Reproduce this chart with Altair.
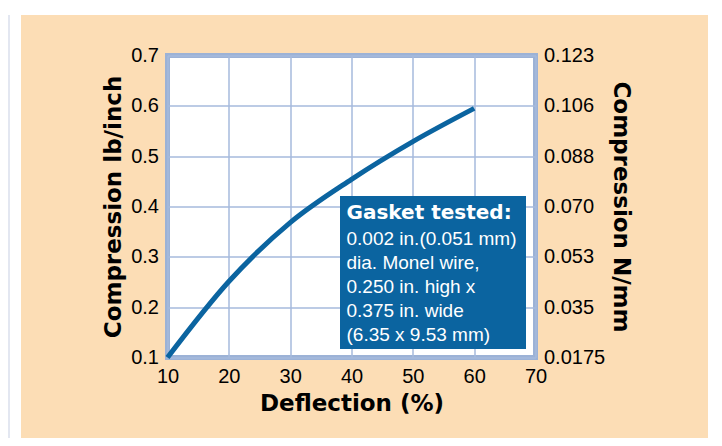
import altair as alt
import pandas as pd

# ---- data ----
deflection = [10, 20, 30, 40, 50, 60]
compression_lb_in = [0.100, 0.251, 0.368, 0.454, 0.529, 0.595]
x_ticks = [10, 20, 30, 40, 50, 60, 70]
y_ticks = [0.1, 0.2, 0.3, 0.4, 0.5, 0.6, 0.7]
y_right_labels = ["0.0175", "0.035", "0.053", "0.070", "0.088", "0.106", "0.123"]
note_title = "Gasket tested:"
note_lines = ["0.002 in.(0.051 mm)", "dia. Monel  wire,", "0.250 in. high x",
              "0.375 in. wide", "(6.35 x 9.53 mm)"]

df = pd.DataFrame({"Deflection": deflection, "Compression": compression_lb_in})

# ---- styling ----
PEACH = "#FCDDB5"
BLUE = "#0B64A0"
GRID = "#A6BADD"
BORDER = "#9CB2D6"
LIGHT = "#E3E7F1"
W, H = 368, 302
PAD = {"left": 159.5, "top": 47.5, "right": 178.5, "bottom": 80.5}
TOTAL_W = PAD["left"] + W + PAD["right"]
LABEL_FONT = "Liberation Sans"
TITLE_FONT = "DejaVu Sans"

xscale = alt.Scale(domain=[x_ticks[0], x_ticks[-1]], nice=False, zero=False)
yscale = alt.Scale(domain=[y_ticks[0], y_ticks[-1]], nice=False, zero=False)

label_expr = " : ".join(
    f"datum.value < {v + 0.05:.2f} ? '{lab}'" for v, lab in zip(y_ticks, y_right_labels)
) + " : ''"

one = alt.InlineData(values=[{}])

def strip(x, x2, y, y2, color):
    return alt.Chart(one).mark_rect(color=color).encode(
        x=alt.value(x), x2=alt.value(x2), y=alt.value(y), y2=alt.value(y2)
    )

L, T = -PAD["left"], -PAD["top"]
R = TOTAL_W - PAD["left"]
B = H + PAD["bottom"]
strips = [
    strip(L, L + 13, T, B, "white"),
    strip(L, L + 2, T, B, LIGHT),
    strip(L, R, T, T + 7, "white"),
    strip(R - 6, R, T, B, "white"),
]

line = alt.Chart(df).mark_line(
    color=BLUE, strokeWidth=5, interpolate="monotone", strokeCap="butt"
).encode(
    x=alt.X("Deflection:Q", scale=xscale,
            axis=alt.Axis(values=x_ticks, format="d", title="Deflection (%)",
                          grid=True, labelPadding=9, titlePadding=6, labelFlush=False)),
    y=alt.Y("Compression:Q", scale=yscale,
            axis=alt.Axis(values=y_ticks, format=".1f", title="Compression lb/inch",
                          orient="left", grid=True, labelPadding=9, titlePadding=5)),
)

right = alt.Chart(df).mark_point(opacity=0).encode(
    y=alt.Y("Compression:Q", scale=yscale,
            axis=alt.Axis(values=y_ticks, labelExpr=label_expr, title="Compression N/mm",
                          orient="right", grid=False, labelPadding=8, titlePadding=4)),
)

box = alt.Chart(one).mark_rect(color=BLUE).encode(
    x=alt.value(172.5), x2=alt.value(358.5), y=alt.value(140.5), y2=alt.value(293.5)
)

heading = alt.Chart(one).mark_text(
    text=note_title, font=TITLE_FONT, fontWeight="bold", fontSize=20,
    color="white", align="left", baseline="middle"
).encode(x=alt.value(179), y=alt.value(157.5))

texts = [
    alt.Chart(one).mark_text(
        text=t, font=LABEL_FONT, fontSize=19, color="white",
        align="left", baseline="middle"
    ).encode(x=alt.value(179), y=alt.value(183.5 + 24 * i))
    for i, t in enumerate(note_lines)
]

chart = alt.layer(*strips, line, right, box, heading, *texts).resolve_scale(
    y="independent"
).properties(
    width=W, height=H,
    autosize=alt.AutoSizeParams(type="none"),
    padding=PAD,
    background=PEACH,
).configure_view(
    fill="white", stroke=BORDER, strokeWidth=5
).configure_axis(
    gridColor=GRID, gridWidth=1.5, gridOpacity=1,
    domain=False, ticks=False,
    labelFont=LABEL_FONT, labelFontSize=20, labelColor="black",
    titleFont=TITLE_FONT, titleFontWeight="bold", titleFontSize=23, titleColor="black",
)

chart.save("out.html", embed_options={"renderer": "svg", "actions": False})
